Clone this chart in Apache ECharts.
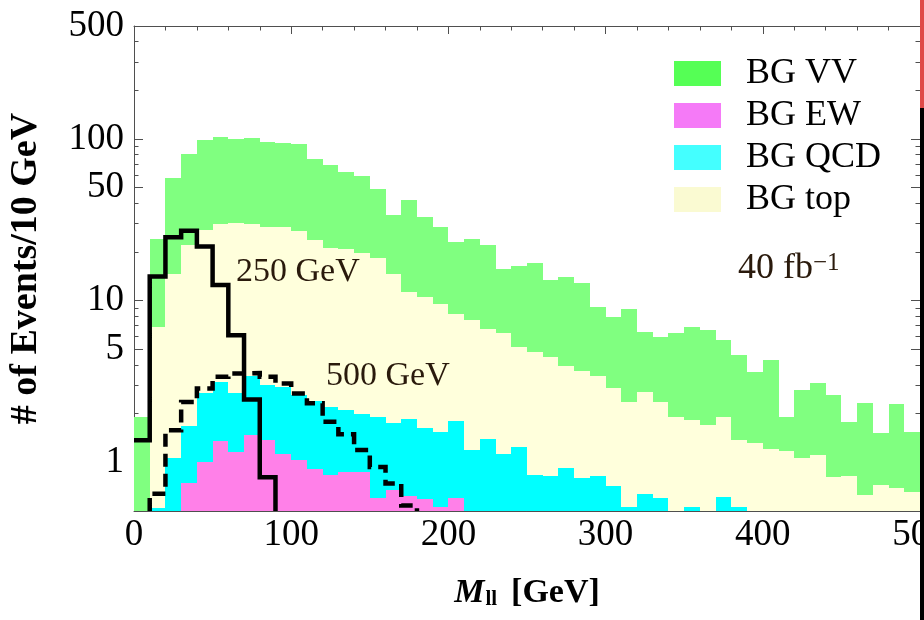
<!DOCTYPE html>
<html>
<head>
<meta charset="utf-8">
<script src="https://cdn.jsdelivr.net/npm/echarts@6/dist/echarts.min.js"></script>
<style>
  html, body { margin: 0; padding: 0; background: #ffffff; }
  #chart { width: 924px; height: 620px; }
</style>
</head>
<body>
<div id="chart"></div>
<script>
// Dilepton invariant mass, 10 GeV bins (lower bin edges)
const binLow = [
  0, 10, 20, 30, 40, 50, 60, 70, 80, 90,
  100, 110, 120, 130, 140, 150, 160, 170, 180, 190,
  200, 210, 220, 230, 240, 250, 260, 270, 280, 290,
  300, 310, 320, 330, 340, 350, 360, 370, 380, 390,
  400, 410, 420, 430, 440, 450, 460, 470, 480, 490
];

// Background events per bin (0 = empty bin)
const bgVV = [
  1.91, 24.2, 57.2, 81.1, 98.2, 103.6, 99.9, 102, 95.7, 94.3,
  92.9, 75.0, 68.8, 62.6, 59.0, 48.9, 33.8, 41.8, 33.1, 28.4,
  23.2, 23.9, 22.1, 15.8, 16.5, 17.0, 13.5, 14.1, 12.9, 9.1,
  7.9, 8.9, 6.4, 6.0, 6.3, 6.9, 6.6, 5.7, 4.6, 3.6,
  4.3, 1.9, 2.8, 3.1, 2.6, 1.77, 2.33, 1.52, 2.3, 1.54
];
const bgTop = [
  0, 6.87, 14.6, 22.1, 27.4, 29.7, 30.1, 29.9, 28.4, 28.4,
  26.8, 23.7, 21.3, 21.0, 19.6, 18.3, 14.7, 11.3, 10.5, 9.6,
  8.3, 7.6, 6.7, 6.3, 5.2, 4.8, 4.5, 3.95, 3.67, 3.4,
  2.9, 2.35, 2.72, 2.35, 1.90, 1.83, 1.69, 1.9, 1.38, 1.32,
  1.21, 1.18, 1.06, 1.11, 0.81, 0.82, 0.63, 0.72, 0.69, 0.66
];
const bgQCD = [
  0, 0.52, 1.07, 1.67, 2.70, 3.14, 2.69, 3.4, 3.03, 2.93,
  2.6, 2.4, 2.2, 2.1, 2.0, 1.9, 1.76, 1.85, 1.63, 1.54,
  1.79, 1.20, 1.40, 1.13, 1.24, 0.83, 0.82, 0.92, 0.80, 0.82,
  0.71, 0.53, 0.64, 0.60, 0, 0.53, 0, 0.61, 0.53, 0,
  0, 0, 0, 0, 0, 0, 0, 0, 0, 0
];
const bgEW = [
  0, 0, 0, 0.74, 1.01, 1.35, 1.16, 1.48, 1.37, 1.13,
  1.04, 0.91, 0.84, 0.87, 0.87, 0.60, 0.67, 0.62, 0.59, 0.53,
  0.60, 0, 0, 0, 0, 0, 0, 0, 0, 0,
  0, 0, 0, 0, 0, 0, 0, 0, 0, 0,
  0, 0, 0, 0, 0, 0, 0, 0, 0, 0
];

// Signal events per bin for the two mass points
const sig250 = [
  1.37, 14.1, 24.7, 27.1, 21.6, 12.5, 6.1, 2.45, 0.81, 0,
  0, 0, 0, 0, 0, 0, 0, 0, 0, 0
];
const sig500 = [
  0, 0.64, 1.58, 2.36, 2.86, 3.38, 3.54, 3.57, 3.38, 3.07,
  2.67, 2.32, 1.78, 1.49, 1.19, 0.935, 0.74, 0.54, 0, 0
];

// Axis ticks
const xMajorStep = 100;
const xMinorStep = 20;
const yMajorTicks = [1, 5, 10, 50, 100, 500];
const yMinorTicks = [0.6, 0.7, 0.8, 0.9, 2, 3, 4, 6, 7, 8, 9, 20, 30, 40, 60, 70, 80, 90, 200, 300, 400];

const BIN = 10;
const X_MIN = 0, X_MAX = 500;
const Y_MIN = 0.5, Y_MAX = 500;
const FONT = '"Liberation Serif", "Times New Roman", Times, serif';
const AXIS_COLOR = '#4f4f4f';
const NOTE_COLOR = '#2a1a0c';

const fills = { vv: '#80ff80', top: '#ffffdc', qcd: '#00ffff', ew: '#ff80e8' };
const keyFills = { vv: '#55ff55', top: '#fafad2', qcd: '#44ffff', ew: '#f57af7' };

// Filled histogram: one rectangle per non-empty bin, from the frame floor up to the bin value
function histSeries(name, values, color) {
  return {
    type: 'custom',
    name: name,
    data: binLow.map((lo, i) => [lo, lo + BIN, values[i]]),
    encode: { x: [0, 1], y: 2 },
    itemStyle: { color: color },
    silent: true,
    renderItem: function (params, api) {
      const v = api.value(2);
      if (!(v > 0)) return null;
      const tl = api.coord([api.value(0), v]);
      const br = api.coord([api.value(1), Y_MIN]);
      const x0 = Math.round(tl[0]), x1 = Math.round(br[0]);
      const y0 = Math.round(tl[1]), y1 = Math.round(br[1]);
      return {
        type: 'rect',
        shape: { x: x0, y: y0, width: x1 - x0, height: y1 - y0 },
        style: { fill: color }
      };
    }
  };
}

// Histogram outline as a stepped path in data space
function outline(values) {
  const pts = [];
  let first = -1, last = -1;
  values.forEach((v, i) => { if (v > 0) { if (first < 0) first = i; last = i; } });
  if (binLow[first] > X_MIN) pts.push([binLow[first], Y_MIN]);
  for (let i = first; i <= last; i++) {
    pts.push([binLow[i], values[i]]);
    pts.push([binLow[i] + BIN, values[i]]);
  }
  pts.push([binLow[last] + BIN, Y_MIN]);
  return pts;
}

function outlineSeries(name, values, dash) {
  return {
    type: 'line',
    name: name,
    data: outline(values),
    symbol: 'none',
    showSymbol: false,
    silent: true,
    z: 5,
    lineStyle: { color: '#000000', width: 4.5, type: dash ? [13, 7] : 'solid', join: 'miter', cap: 'butt' }
  };
}

const xBase = { type: 'value', min: X_MIN, max: X_MAX, splitLine: { show: false } };
const yBase = { type: 'log', logBase: 10, min: Y_MIN, max: Y_MAX, splitLine: { show: false }, minorTick: { show: false } };
const frameLine = { show: true, onZero: false, lineStyle: { color: AXIS_COLOR, width: 1 } };
const noLine = { show: false, onZero: false };
const tickStyle = { color: AXIS_COLOR, width: 1 };

const option = {
  animation: false,
  backgroundColor: '#ffffff',
  grid: { left: 134, right: 4, top: 26, bottom: 109, containLabel: false, outerBoundsMode: 'none' },
  legend: {
    orient: 'vertical',
    left: 674,
    top: 55,
    padding: 0,
    itemWidth: 47,
    itemHeight: 25,
    itemGap: 5,
    selectedMode: false,
    icon: 'rect',
    textStyle: { fontFamily: FONT, fontSize: 36, color: '#000000', lineHeight: 25, padding: [0, 0, 12, 20] },
    data: [
      { name: 'BG VV', itemStyle: { color: keyFills.vv } },
      { name: 'BG EW', itemStyle: { color: keyFills.ew } },
      { name: 'BG QCD', itemStyle: { color: keyFills.qcd } },
      { name: 'BG top', itemStyle: { color: keyFills.top } }
    ]
  },
  xAxis: [
    Object.assign({}, xBase, {
      position: 'bottom', interval: xMajorStep,
      axisLine: frameLine,
      axisTick: { inside: true, length: 8, lineStyle: tickStyle },
      axisLabel: { fontFamily: FONT, fontSize: 37, color: '#000000', margin: 6 },
      name: '{m|M}{s|ll}{b|[GeV]}',
      nameLocation: 'middle',
      nameGap: 65,
      nameTextStyle: {
        fontFamily: FONT, fontSize: 34, fontWeight: 'bold', color: '#000000',
        rich: {
          m: { fontFamily: FONT, fontSize: 34, fontWeight: 'bold', fontStyle: 'italic', lineHeight: 34 },
          s: { fontFamily: FONT, fontSize: 21, fontWeight: 'bold', lineHeight: 21, verticalAlign: 'bottom', padding: [0, 0, 0, 1] },
          b: { fontFamily: FONT, fontSize: 34, fontWeight: 'bold', lineHeight: 34, padding: [0, 0, 0, 14] }
        }
      }
    }),
    Object.assign({}, xBase, {
      position: 'bottom', interval: xMinorStep,
      axisLine: noLine,
      axisTick: { inside: true, length: 4.5, lineStyle: tickStyle },
      axisLabel: { show: false }
    }),
    Object.assign({}, xBase, {
      position: 'top', interval: xMajorStep,
      axisLine: frameLine,
      axisTick: { inside: true, length: 8, lineStyle: tickStyle },
      axisLabel: { show: false }
    }),
    Object.assign({}, xBase, {
      position: 'top', interval: xMinorStep,
      axisLine: noLine,
      axisTick: { inside: true, length: 4.5, lineStyle: tickStyle },
      axisLabel: { show: false }
    })
  ],
  yAxis: [
    Object.assign({}, yBase, {
      position: 'left',
      axisLine: frameLine,
      axisTick: { inside: true, length: 9, lineStyle: tickStyle, customValues: yMajorTicks },
      axisLabel: { fontFamily: FONT, fontSize: 37, color: '#000000', margin: 10, customValues: yMajorTicks },
      name: '# of Events/10 GeV',
      nameLocation: 'middle',
      nameGap: 89,
      nameRotate: 90,
      nameTextStyle: { fontFamily: FONT, fontSize: 38, fontWeight: 'bold', color: '#000000' }
    }),
    Object.assign({}, yBase, {
      position: 'left',
      axisLine: noLine,
      axisTick: { inside: true, length: 4.5, lineStyle: tickStyle, customValues: yMinorTicks },
      axisLabel: { show: false }
    }),
    Object.assign({}, yBase, {
      position: 'right',
      axisLine: frameLine,
      axisTick: { inside: true, length: 9, lineStyle: tickStyle, customValues: yMajorTicks },
      axisLabel: { show: false }
    }),
    Object.assign({}, yBase, {
      position: 'right',
      axisLine: noLine,
      axisTick: { inside: true, length: 4.5, lineStyle: tickStyle, customValues: yMinorTicks },
      axisLabel: { show: false }
    })
  ],
  series: [
    histSeries('BG VV', bgVV, fills.vv),
    histSeries('BG top', bgTop, fills.top),
    histSeries('BG QCD', bgQCD, fills.qcd),
    histSeries('BG EW', bgEW, fills.ew),
    outlineSeries('250 GeV', sig250, false),
    outlineSeries('500 GeV', sig500, true)
  ],
  graphic: [
    { type: 'text', x: 236, y: 272, z: 10, silent: true,
      style: { text: '250 GeV', font: '34px ' + FONT, fill: NOTE_COLOR, align: 'left', verticalAlign: 'middle' } },
    { type: 'text', x: 326, y: 376, z: 10, silent: true,
      style: { text: '500 GeV', font: '34px ' + FONT, fill: NOTE_COLOR, align: 'left', verticalAlign: 'middle' } },
    { type: 'text', x: 738, y: 269, z: 10, silent: true,
      style: {
        text: '{n|40 fb}{e|\u22121}', fill: NOTE_COLOR, align: 'left', verticalAlign: 'middle',
        rich: {
          n: { fontFamily: FONT, fontSize: 36, lineHeight: 36, fill: NOTE_COLOR },
          e: { fontFamily: FONT, fontSize: 25, lineHeight: 22, verticalAlign: 'top', fill: NOTE_COLOR }
        }
      } },
    // right edge strip
    { type: 'rect', z: 20, silent: true, shape: { x: 920, y: 0, width: 4, height: 108 }, style: { fill: '#df4a48' } },
    { type: 'rect', z: 20, silent: true, shape: { x: 920, y: 108, width: 4, height: 512 }, style: { fill: '#000000' } }
  ]
};

const chart = echarts.init(document.getElementById('chart'), null, { renderer: 'canvas' });
chart.setOption(option);
</script>
</body>
</html>
